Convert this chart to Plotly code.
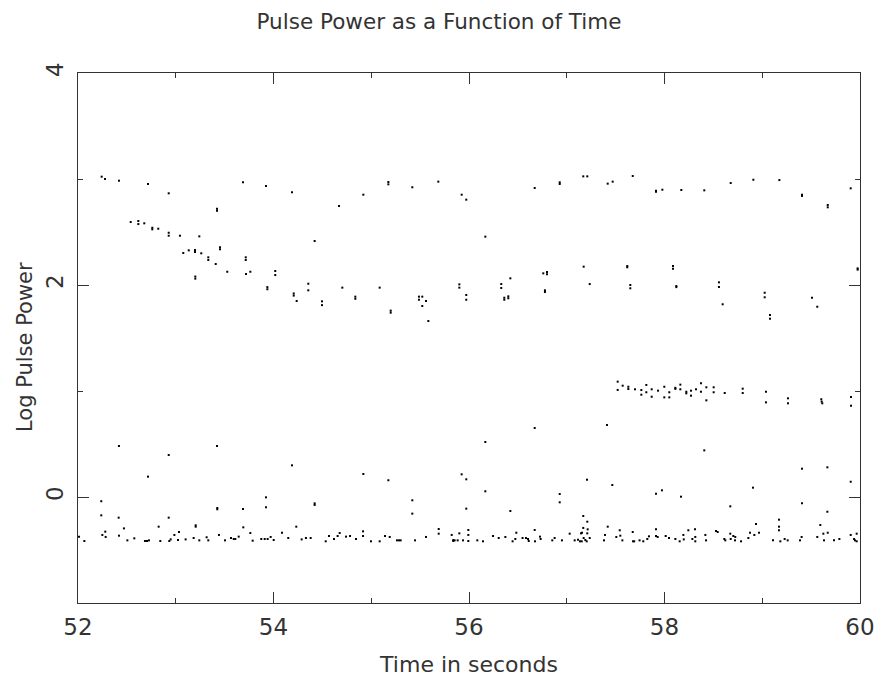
import plotly.graph_objects as go

# Upper band (~log power 3)
upper_t = [52.242, 52.276, 52.419, 52.716, 52.928, 53.422, 53.422, 53.688, 53.923, 54.189,
           54.670, 54.919, 55.175, 55.175, 55.420, 55.686, 55.925, 55.972, 56.167, 56.672,
           56.928, 56.928, 57.169, 57.210, 57.419, 57.470, 57.675, 57.913, 57.913, 57.978,
           58.172, 58.407, 58.677, 58.909, 59.175, 59.407, 59.407, 59.670, 59.670, 59.905]
upper_p = [3.022, 3.000, 2.984, 2.953, 2.865, 2.720, 2.700, 2.969, 2.934, 2.875,
           2.745, 2.852, 2.972, 2.950, 2.922, 2.975, 2.852, 2.805, 2.456, 2.915,
           2.969, 2.953, 3.025, 3.025, 2.956, 2.975, 3.028, 2.890, 2.880, 2.899,
           2.896, 2.893, 2.962, 2.993, 2.990, 2.852, 2.840, 2.755, 2.733, 2.912]

# Descending band (~2.6 -> 2)
second_t = [52.539, 52.617, 52.617, 52.678, 52.760, 52.760, 52.821, 52.928, 52.928, 53.043,
            53.241, 53.077, 53.133, 53.197, 53.197, 53.261, 53.333, 53.333, 53.409, 53.453,
            53.453, 53.200, 53.200, 53.527, 53.716, 53.716, 53.719, 53.763, 54.018, 54.018,
            53.937, 53.937, 54.207, 54.207, 54.237, 54.356, 54.356, 54.421, 54.496, 54.496,
            54.704, 54.837, 54.837, 55.086, 55.199, 55.199, 55.488, 55.522, 55.488, 55.560,
            55.522, 55.584, 55.901, 55.901, 55.972, 55.972, 56.330, 56.330, 56.361, 56.361,
            56.402, 56.402, 56.423, 56.760, 56.798, 56.798, 56.777, 56.777, 57.173, 57.235,
            57.619, 57.619, 57.650, 57.650, 58.087, 58.087, 58.121, 58.121, 58.557, 58.557,
            58.595, 59.025, 59.025, 59.079, 59.079, 59.509, 59.563, 59.976, 59.976]
second_p = [2.594, 2.604, 2.575, 2.582, 2.540, 2.525, 2.531, 2.493, 2.465, 2.465,
            2.459, 2.302, 2.327, 2.330, 2.311, 2.299, 2.261, 2.236, 2.198, 2.356,
            2.337, 2.080, 2.060, 2.125, 2.261, 2.236, 2.104, 2.125, 2.132, 2.094,
            1.980, 1.960, 1.920, 1.900, 1.849, 2.012, 1.950, 2.415, 1.846, 1.810,
            1.975, 1.890, 1.870, 1.975, 1.758, 1.739, 1.890, 1.890, 1.861, 1.849,
            1.802, 1.660, 2.006, 1.975, 1.906, 1.861, 2.009, 1.972, 1.880, 1.861,
            1.893, 1.875, 2.063, 2.110, 2.123, 2.101, 1.950, 1.934, 2.173, 2.009,
            2.179, 2.167, 2.000, 1.969, 2.179, 2.154, 1.990, 1.980, 2.025, 1.981,
            1.818, 1.927, 1.884, 1.717, 1.682, 1.880, 1.795, 2.157, 2.145]

# Cluster near log power 1
third_t = [57.521, 57.521, 57.572, 57.630, 57.630, 57.698, 57.763, 57.763, 57.814, 57.814,
           57.869, 57.869, 57.934, 57.998, 57.998, 58.049, 58.049, 58.111, 58.111, 58.162,
           58.162, 58.223, 58.223, 58.271, 58.271, 58.322, 58.373, 58.373, 58.428, 58.428,
           58.503, 58.503, 58.616, 58.800, 58.800, 59.038, 59.038, 59.263, 59.263, 59.604,
           59.608, 59.614, 59.908, 59.908]
third_p = [1.088, 1.010, 1.050, 1.040, 1.019, 1.016, 1.009, 0.965, 1.057, 0.988,
           1.016, 0.946, 1.003, 1.040, 0.940, 0.988, 0.940, 1.030, 1.020, 1.060,
           1.016, 0.993, 0.978, 1.003, 0.956, 1.016, 1.073, 0.993, 1.035, 0.912,
           1.035, 0.988, 0.981, 1.022, 0.981, 0.993, 0.893, 0.931, 0.884, 0.922,
           0.900, 0.884, 0.943, 0.861]

# Scattered points between -0.25 and 0.7
mid_t = [57.412, 58.407, 57.466, 57.913, 57.974, 58.169, 58.673, 58.905, 59.407, 59.407,
         59.666, 59.666, 59.905, 52.238, 52.238, 52.416, 52.716, 52.928, 53.425, 53.425,
         53.688, 53.923, 53.923, 54.421, 54.421, 54.919, 55.175, 55.420, 55.420, 55.925,
         55.972, 55.972, 56.167, 56.423, 56.928, 56.928, 57.169, 57.207, 57.210, 59.171,
         52.419, 53.422, 52.928, 54.189, 56.167, 56.672]
mid_p = [0.679, 0.440, 0.113, 0.031, 0.063, 0.003, -0.088, 0.088, 0.267, -0.059,
         0.280, -0.139, 0.144, -0.040, -0.173, -0.195, 0.192, -0.195, -0.104, -0.116,
         -0.113, -0.003, -0.097, -0.060, -0.075, 0.217, 0.158, -0.031, -0.157, 0.214,
         0.167, -0.110, 0.054, -0.132, 0.028, -0.050, -0.179, 0.163, -0.233, -0.214,
         0.481, 0.481, 0.396, 0.299, 0.519, 0.651]

# Baseline band (~ -0.4)
base_t = [52.010, 52.065, 52.249, 52.279, 52.283, 52.419, 52.470, 52.505, 52.576, 52.685,
          52.706, 52.726, 52.825, 52.842, 52.934, 52.948, 52.986, 53.023, 53.033, 53.101,
          53.183, 53.204, 53.204, 53.241, 53.316, 53.333, 53.442, 53.504, 53.565, 53.593,
          53.609, 53.644, 53.691, 53.763, 53.787, 53.875, 53.910, 53.940, 53.971, 54.002,
          54.087, 54.151, 54.233, 54.288, 54.332, 54.380, 54.534, 54.568, 54.619, 54.656,
          54.677, 54.742, 54.783, 54.844, 54.916, 54.916, 54.997, 55.086, 55.141, 55.189,
          55.263, 55.284, 55.301, 55.448, 55.560, 55.690, 55.690, 55.823, 55.839, 55.839,
          55.853, 55.884, 55.901, 55.939, 55.993, 55.993, 55.993,
          56.085, 56.143, 56.246, 56.304, 56.372, 56.446, 56.474, 56.484, 56.548, 56.583,
          56.604, 56.611, 56.672, 56.675, 56.726, 56.733, 56.852, 56.876, 56.951, 57.030,
          57.081, 57.115, 57.135, 57.153, 57.146, 57.156, 57.169, 57.173, 57.190, 57.204,
          57.214, 57.210, 57.235, 57.381, 57.391, 57.419, 57.507, 57.542, 57.548, 57.569,
          57.675, 57.678, 57.690, 57.745, 57.783, 57.824, 57.841, 57.913, 57.913, 57.930,
          58.012, 58.046,
          58.111, 58.155, 58.193, 58.197, 58.244, 58.285, 58.312, 58.315, 58.315, 58.418,
          58.425, 58.527, 58.544, 58.612, 58.622, 58.673, 58.677, 58.704, 58.724, 58.721,
          58.783, 58.858, 58.875, 58.919, 58.936, 58.967, 59.110, 59.171, 59.171, 59.185,
          59.229, 59.260, 59.386, 59.403, 59.563, 59.594, 59.625, 59.632, 59.670, 59.734,
          59.789, 59.905, 59.939, 59.949, 59.966, 59.966]
base_p = [-0.374, -0.415, -0.358, -0.327, -0.377, -0.365, -0.296, -0.409, -0.390, -0.415,
          -0.415, -0.409, -0.280, -0.415, -0.415, -0.400, -0.358, -0.406, -0.330, -0.400,
          -0.387, -0.267, -0.280, -0.409, -0.380, -0.409, -0.358, -0.409, -0.387, -0.396,
          -0.396, -0.374, -0.286, -0.340, -0.412, -0.396, -0.396, -0.396, -0.377, -0.406,
          -0.337, -0.387, -0.280, -0.400, -0.387, -0.387, -0.418, -0.368, -0.396, -0.368,
          -0.340, -0.374, -0.368, -0.396, -0.324, -0.368, -0.418, -0.418, -0.368, -0.377,
          -0.409, -0.409, -0.409, -0.409, -0.377, -0.302, -0.346, -0.358, -0.406, -0.415,
          -0.409, -0.409, -0.343, -0.409, -0.311, -0.358, -0.415,
          -0.409, -0.418, -0.368, -0.387, -0.377, -0.418, -0.396, -0.337, -0.387, -0.387,
          -0.396, -0.415, -0.311, -0.418, -0.374, -0.396, -0.409, -0.387, -0.409, -0.346,
          -0.409, -0.403, -0.418, -0.418, -0.343, -0.337, -0.292, -0.387, -0.406, -0.418,
          -0.305, -0.343, -0.387, -0.409, -0.358, -0.280, -0.377, -0.314, -0.365, -0.409,
          -0.330, -0.418, -0.418, -0.409, -0.418, -0.396, -0.371, -0.305, -0.368, -0.377,
          -0.368, -0.387,
          -0.396, -0.418, -0.358, -0.400, -0.314, -0.396, -0.305, -0.377, -0.418, -0.358,
          -0.409, -0.321, -0.330, -0.396, -0.409, -0.346, -0.396, -0.368, -0.377, -0.409,
          -0.418, -0.387, -0.337, -0.358, -0.255, -0.337, -0.409, -0.280, -0.314, -0.418,
          -0.396, -0.409, -0.409, -0.377, -0.377, -0.264, -0.346, -0.409, -0.337, -0.409,
          -0.396, -0.358, -0.396, -0.409, -0.418, -0.346]

times = upper_t + second_t + third_t + mid_t + base_t
powers = upper_p + second_p + third_p + mid_p + base_p

FONT = "DejaVu Sans"
AX = "#333333"

fig = go.Figure()
fig.add_trace(go.Scatter(
    x=times, y=powers, mode="markers",
    marker=dict(symbol="square", size=2, color="black", line=dict(width=0)),
    showlegend=False, hoverinfo="x+y"))

axis_common = dict(
    showgrid=False, zeroline=False, showline=True, linecolor=AX, linewidth=1,
    mirror="allticks", ticks="inside", tickcolor=AX, tickwidth=1, ticklen=11,
    tickfont=dict(family=FONT, size=23, color=AX), automargin=False,
)

fig.update_xaxes(
    range=[52, 60], tickvals=[52, 54, 56, 58, 60], ticktext=["52", "54", "56", "58", "60"],
    minor=dict(dtick=1, ticks="inside", ticklen=5, tickcolor=AX, tickwidth=1),
    ticklabelstandoff=3,
    title=dict(text="Time in seconds", font=dict(family=FONT, size=22, color=AX), standoff=18),
    **axis_common)
fig.update_yaxes(
    range=[-1, 4], tickvals=[0, 2, 4], ticktext=["0", "2", "4"], tickangle=-90,
    minor=dict(dtick=1, ticks="inside", ticklen=5, tickcolor=AX, tickwidth=1),
    ticklabelstandoff=5,
    **axis_common)

W, H = 878, 687
fig.update_layout(
    width=W, height=H,
    margin=dict(l=78, r=18, t=73, b=84),
    plot_bgcolor="white", paper_bgcolor="white",
    title=dict(text="Pulse Power as a Function of Time", x=0.5, xanchor="center",
               y=1 - 21 / H, yref="container", yanchor="middle",
               font=dict(family=FONT, size=21.5, color=AX)),
    annotations=[dict(text="Log Pulse Power", textangle=-90, showarrow=False,
                      xref="paper", yref="paper", x=0, y=0.5, xanchor="center",
                      yanchor="middle", xshift=-53, yshift=-9,
                      font=dict(family=FONT, size=21, color=AX))],
)

fig.write_html("out.html", config={"displayModeBar": False},
               post_script="document.body.style.margin='0';document.body.style.overflow='hidden';")
